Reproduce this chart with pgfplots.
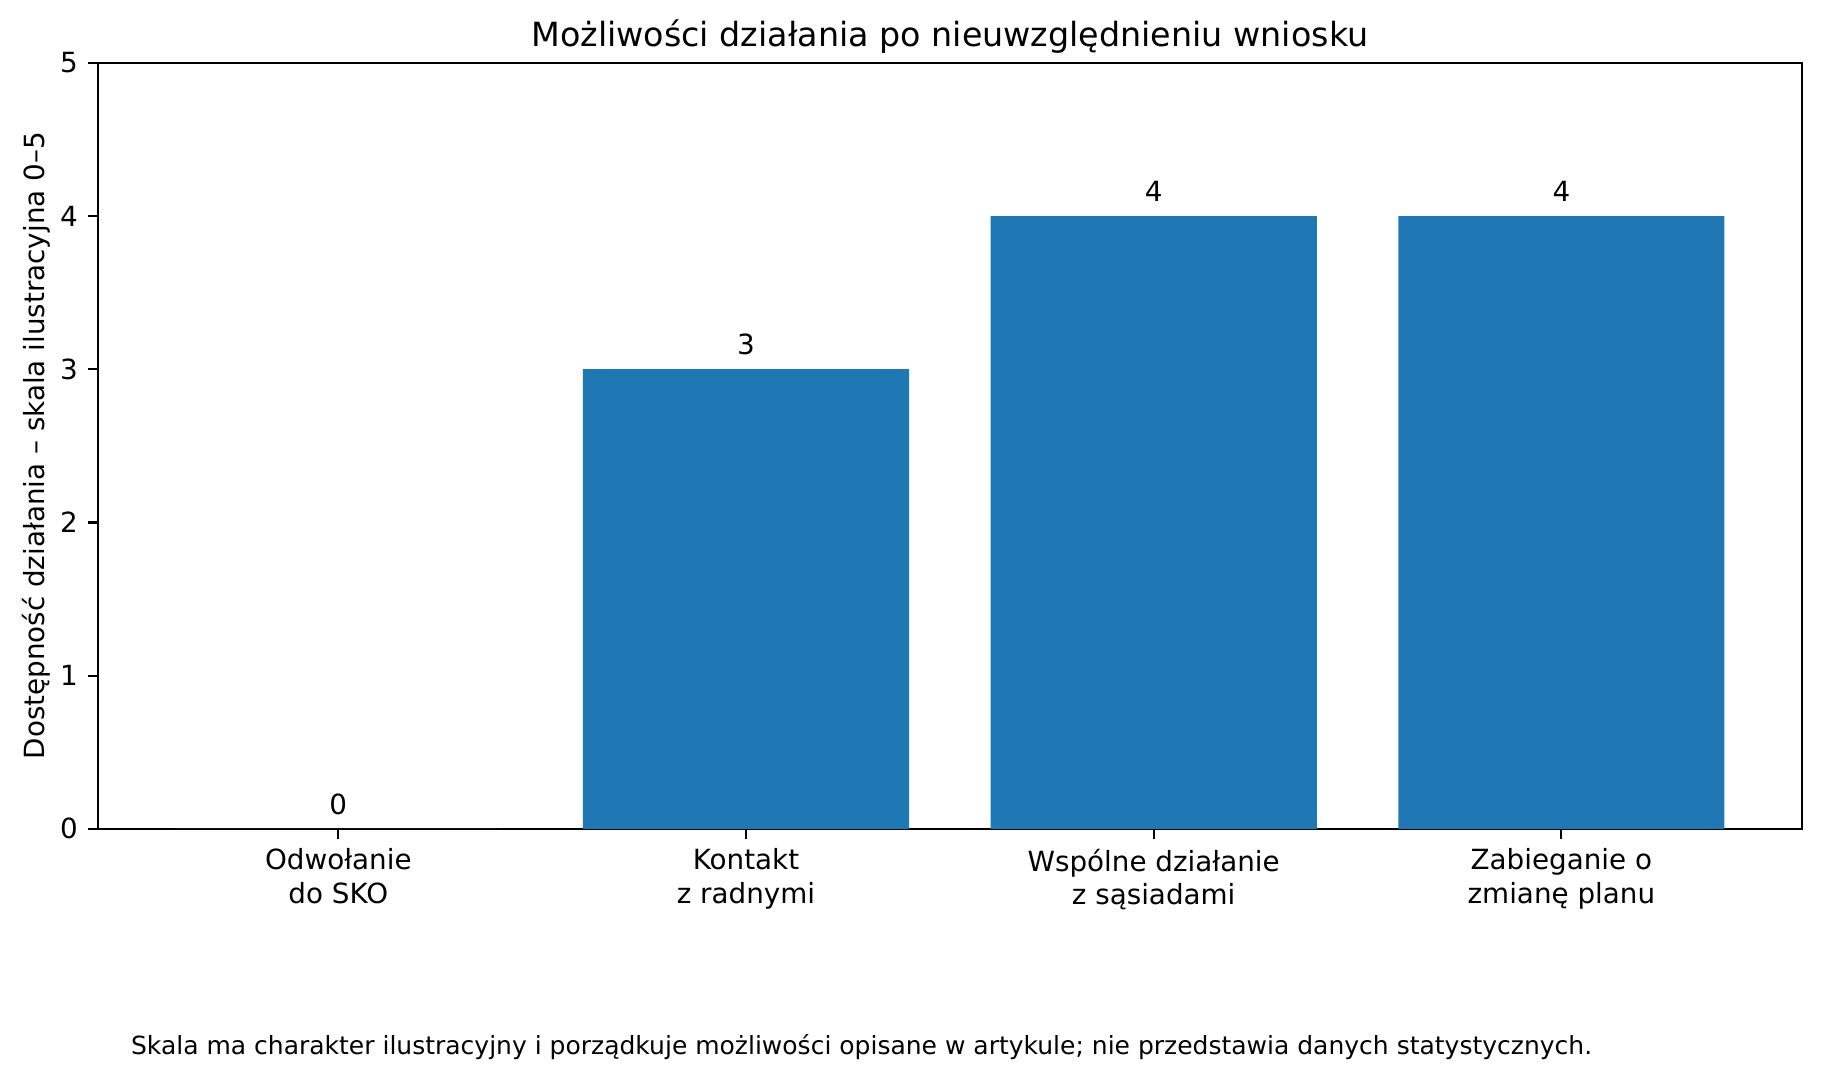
\documentclass[border=0pt]{standalone}
\usepackage{fontspec}
\setmainfont{DejaVu Sans}
\usepackage{pgfplots}
\pgfplotsset{compat=1.18}
\definecolor{mplblue}{HTML}{1F77B4}

\begin{document}
\begin{tikzpicture}
\useasboundingbox (0,0) rectangle (656.3pt,388.8pt);
\begin{axis}[
    at={(35.2pt,90.4pt)}, anchor=south west,
    scale only axis,
    width=613.5pt, height=275.8pt,
    ybar, bar width=0.8, bar shift=0pt,
    xmin=-0.59, xmax=3.59,
    ymin=0, ymax=5,
    xtick={0,1,2,3},
    xticklabels={{Odwołanie\\do SKO},{Kontakt\\z radnymi},{Wspólne działanie\\z sąsiadami},{Zabieganie o\\zmianę planu}},
    ytick={0,1,2,3,4,5},
    xtick pos=left, ytick pos=left,
    tick align=outside,
    major tick length=3.5pt,
    axis line style={line width=0.8pt},
    every tick/.style={line width=0.8pt, black},
    /pgf/number format/assume math mode=true,
    tick label style={font=\fontsize{10}{12}\selectfont},
    x tick label style={align=center, inner sep=0pt, yshift=-3.5pt},
    y tick label style={inner sep=0pt, xshift=-3.5pt},
    ylabel={Dostępność działania – skala ilustracyjna 0–5},
    ylabel style={font=\fontsize{10}{12}\selectfont, at={(axis description cs:0,0.5)}, anchor=south, yshift=13.6pt},
    title={Możliwości działania po nieuwzględnieniu wniosku},
    title style={font=\fontsize{12}{14}\selectfont, at={(axis description cs:0.5,1)}, anchor=base, yshift=0pt},
    nodes near coords,
    nodes near coords style={font=\fontsize{10}{12}\selectfont, anchor=south, inner sep=0pt, yshift=5pt, black},
    point meta=explicit symbolic,
]
\addplot[fill=mplblue, draw=none] coordinates {
    (0,0) [0]
    (1,3) [3]
    (2,4) [4]
    (3,4) [4]
};
\end{axis}
\node[anchor=west, font=\fontsize{9}{11}\selectfont, inner sep=0pt] at (47pt,12pt)
    {Skala ma charakter ilustracyjny i porządkuje możliwości opisane w artykule; nie przedstawia danych statystycznych.};
\end{tikzpicture}
\end{document}
